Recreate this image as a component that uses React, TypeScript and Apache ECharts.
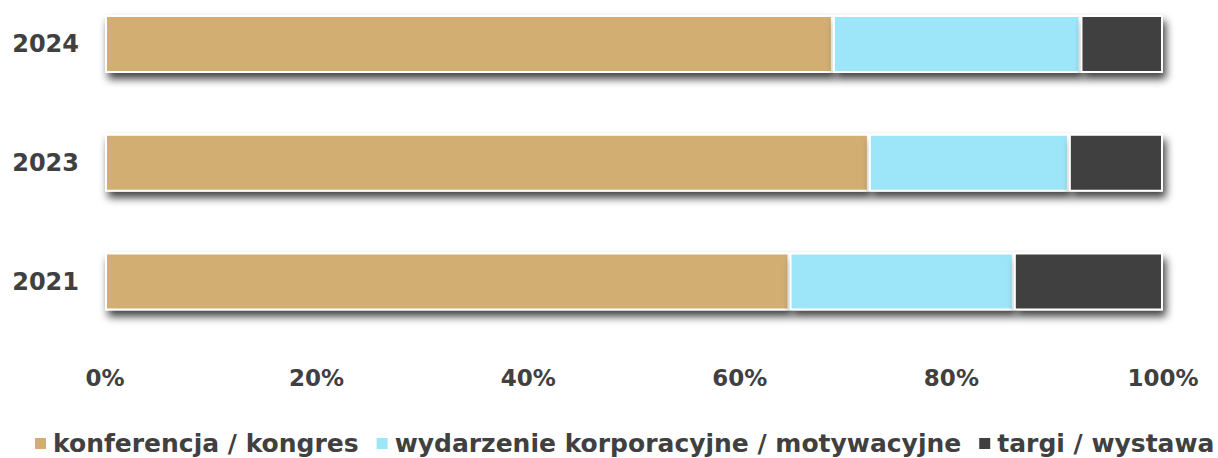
import React, { useEffect, useRef } from "react";
import * as echarts from "echarts";

const years = ["2021", "2023", "2024"];
const seriesNames = [
  "konferencja / kongres",
  "wydarzenie korporacyjne / motywacyjne",
  "targi / wystawa",
];
const konferencja = [64.7, 72.2, 68.8];
const wydarzenie = [21.2, 18.9, 23.4];
const targi = [14.1, 8.9, 7.8];
const colors = ["#D3AE72", "#9DE6FA", "#404040"];
const xTicks = [0, 20, 40, 60, 80, 100];

const FONT = "DejaVu Sans";
const TEXT = "#404040";

export default function App() {
  const ref = useRef<HTMLDivElement>(null);
  useEffect(() => {
    document.body.style.margin = "0";
    const chart = echarts.init(ref.current!, null, { renderer: "svg" });
    const values = [konferencja, wydarzenie, targi];
    chart.setOption({
      animation: false,
      grid: { left: 105, width: 1058, top: 44, height: 237.5, containLabel: false },
      xAxis: {
        type: "value",
        min: xTicks[0],
        max: xTicks[xTicks.length - 1],
        interval: 20,
        axisLine: { show: false },
        axisTick: { show: false },
        splitLine: { show: false },
        axisLabel: {
          formatter: "{value}%",
          margin: 85,
          fontFamily: FONT,
          fontWeight: "bold",
          fontSize: 23,
          color: TEXT,
        },
      },
      yAxis: {
        type: "category",
        data: years,
        boundaryGap: false,
        axisLine: { show: false },
        axisTick: { show: false },
        axisLabel: {
          margin: 26,
          fontFamily: FONT,
          fontWeight: "bold",
          fontSize: 24,
          color: TEXT,
        },
      },
      legend: {
        bottom: 2,
        left: 33,
        width: 1185,
        padding: 0,
        icon: "rect",
        itemWidth: 13,
        itemHeight: 13,
        itemGap: 16,
        textStyle: {
          fontFamily: FONT,
          fontWeight: "bold",
          fontSize: 25,
          color: TEXT,
          padding: [0, 0, 0, 1],
        },
        data: seriesNames,
      },
      series: seriesNames.map((name, i) => ({
        name,
        type: "bar",
        stack: "total",
        barWidth: 58,
        data: values[i],
        itemStyle: {
          color: colors[i],
          borderColor: "#ffffff",
          borderWidth: 2,
          shadowColor: "rgba(0,0,0,0.75)",
          shadowBlur: 9,
          shadowOffsetX: 3,
          shadowOffsetY: 6,
        },
      })),
    });
    return () => chart.dispose();
  }, []);
  return <div ref={ref} style={{ width: 1218, height: 458 }} />;
}
